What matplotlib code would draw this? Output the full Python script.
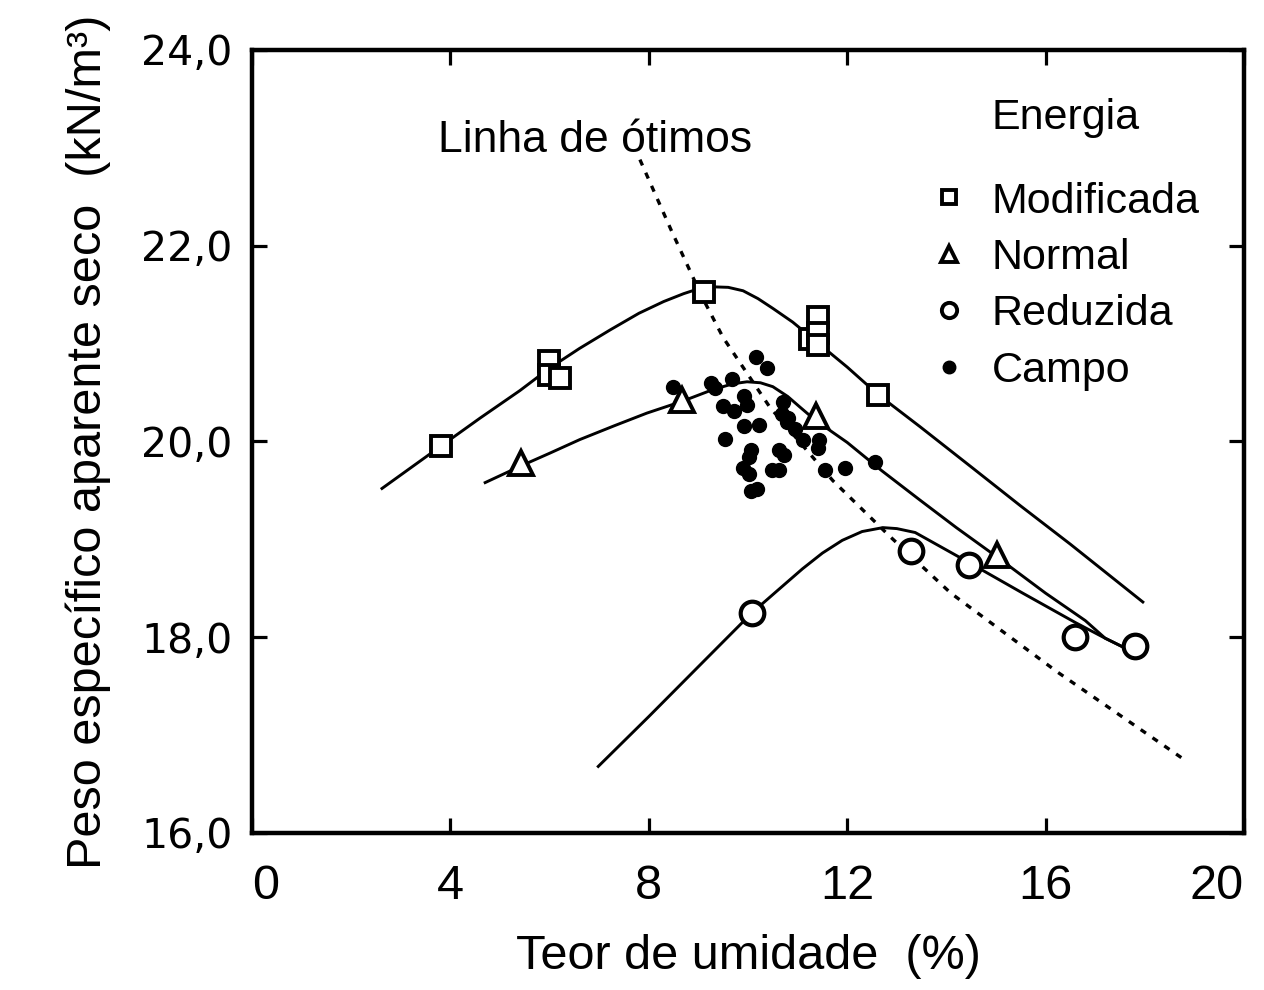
import matplotlib
matplotlib.use("Agg")
import matplotlib.pyplot as plt
from matplotlib.lines import Line2D

plt.rcParams['font.family'] = ['Liberation Sans', 'DejaVu Sans']

# ensaios de compactacao - pontos
mod_x = [3.8, 5.99, 5.99, 6.21, 9.11, 11.25, 11.41, 11.41, 11.41, 12.62]
mod_y = [19.95, 20.82, 20.68, 20.65, 21.53, 21.05, 21.27, 21.11, 20.99, 20.47]

nor_x = [5.42, 8.67, 11.37, 15.02]
nor_y = [19.78, 20.42, 20.26, 18.84]

red_x = [10.08, 13.29, 14.46, 16.59, 17.80]
red_y = [18.25, 18.88, 18.74, 18.00, 17.91]

campo_x = [8.49, 9.25, 9.33, 9.68, 10.16, 10.38, 9.92, 9.98, 9.50, 9.72,
           10.71, 10.69, 10.81, 10.79, 10.95, 9.92, 10.22, 11.11, 11.43, 11.41,
           9.54, 10.06, 10.02, 10.63, 10.73, 9.90, 10.02, 10.48, 10.63, 11.55,
           11.96, 12.56, 10.06, 10.18]
campo_y = [20.56, 20.60, 20.55, 20.64, 20.86, 20.75, 20.46, 20.37, 20.36, 20.31,
           20.40, 20.28, 20.24, 20.20, 20.13, 20.16, 20.17, 20.02, 20.02, 19.93,
           20.03, 19.91, 19.84, 19.91, 19.86, 19.73, 19.67, 19.71, 19.71, 19.71,
           19.73, 19.79, 19.49, 19.51]

# curvas de compactacao
mod_cx = [2.62, 3.8, 4.6, 5.4, 6.0, 6.6, 7.22, 7.8, 8.3, 8.7, 9.0, 9.3, 9.6,
          9.9, 10.2, 10.5, 10.9, 11.45, 12.0, 12.62, 13.47, 14.5, 15.5, 16.5, 17.96]
mod_cy = [19.52, 19.95, 20.24, 20.52, 20.75, 20.95, 21.14, 21.31, 21.43, 21.51,
          21.56, 21.58, 21.575, 21.54, 21.46, 21.36, 21.22, 20.99, 20.76, 20.48,
          20.15, 19.74, 19.34, 18.95, 18.36]

nor_cx = [4.70, 5.42, 6.0, 6.61, 7.3, 7.96, 8.67, 9.29, 9.7, 9.98, 10.25, 10.5,
          10.8, 11.05, 11.35, 12.0, 12.7, 13.47, 14.2, 15.02, 16.0, 16.8, 17.2, 17.6]
nor_cy = [19.58, 19.75, 19.88, 20.02, 20.16, 20.29, 20.41, 20.53, 20.59, 20.61,
          20.60, 20.56, 20.46, 20.35, 20.22, 19.99, 19.70, 19.40, 19.12, 18.82,
          18.45, 18.17, 17.99, 17.89]

red_cx = [6.98, 8.0, 9.0, 10.08, 10.6, 11.1, 11.5, 11.9, 12.3, 12.72, 13.0,
          13.37, 13.9, 14.5, 15.54, 16.6, 17.2, 17.6]
red_cy = [16.68, 17.19, 17.70, 18.25, 18.48, 18.70, 18.86, 18.99, 19.08, 19.12,
          19.11, 19.07, 18.92, 18.75, 18.45, 18.15, 17.99, 17.89]

# linha de otimos
ot_x = [7.82, 8.45, 9.07, 9.5, 10.44, 11.71, 12.86, 14.09, 16.25, 18.85]
ot_y = [22.88, 22.16, 21.48, 21.06, 20.35, 19.60, 19.03, 18.45, 17.64, 16.73]

xticks = [0, 4, 8, 12, 16, 20]
yticks = [16, 18, 20, 22, 24]

fig = plt.figure(figsize=(12.64, 9.9), dpi=100)
ax = fig.add_axes([0.1994, 0.1586, 0.7848, 0.7909])

lw = 2.1
ax.plot(mod_cx, mod_cy, color='black', lw=lw)
ax.plot(nor_cx, nor_cy, color='black', lw=lw)
ax.plot(red_cx, red_cy, color='black', lw=lw)
ax.plot(ot_x, ot_y, color='black', lw=2.4, linestyle=(0, (1.9, 2.4)))

ax.plot(campo_x, campo_y, 'o', color='black', ms=10, zorder=4)
ax.plot(mod_x, mod_y, 's', mfc='white', mec='black', mew=2.8, ms=14.5, zorder=5)
ax.plot(nor_x, nor_y, '^', mfc='white', mec='black', mew=2.8, ms=17, zorder=5)
ax.plot(red_x, red_y, 'o', mfc='white', mec='black', mew=3, ms=17, zorder=5)

ax.text(3.75, 23.08, 'Linha de ótimos', fontsize=32, va='center', ha='left')

# legenda
ax.text(0.745, 0.913, 'Energia', transform=ax.transAxes, fontsize=31,
        va='center', ha='left')
handles = [
    Line2D([], [], ls='none', marker='s', mfc='white', mec='black', mew=2.8, ms=10),
    Line2D([], [], ls='none', marker='^', mfc='white', mec='black', mew=2.8, ms=11),
    Line2D([], [], ls='none', marker='o', mfc='white', mec='black', mew=2.8, ms=11),
    Line2D([], [], ls='none', marker='o', color='black', ms=9),
]
labels = ['Modificada', 'Normal', 'Reduzida', 'Campo']
ax.legend(handles, labels, loc='upper left', bbox_to_anchor=(0.685, 0.832),
          frameon=False, fontsize=31, handlelength=0.8, handletextpad=0.6,
          labelspacing=0.38, borderpad=0, borderaxespad=0)

ax.set_xlim(0, 20)
ax.set_ylim(16, 24)
ax.set_xticks(xticks)
ax.set_yticks(yticks)
xl = ax.set_xticklabels([str(v) for v in xticks], fontsize=35)
xl[0].set_ha('left')
xl[-1].set_ha('right')
ax.set_yticklabels([('%.1f' % v).replace('.', ',') for v in yticks],
                   fontsize=29.5, family='DejaVu Sans')
ax.tick_params(direction='in', length=11, width=2.3, top=True, right=True)
ax.tick_params(axis='x', pad=22)
ax.tick_params(axis='y', pad=14)
for s in ax.spines.values():
    s.set_linewidth(3.2)

ax.set_xlabel('Teor de umidade  (%)', fontsize=35, labelpad=18)
ax.set_ylabel('Peso específico aparente seco  (kN/m³)', fontsize=35, labelpad=22)

fig.savefig('out.png', dpi=100)
